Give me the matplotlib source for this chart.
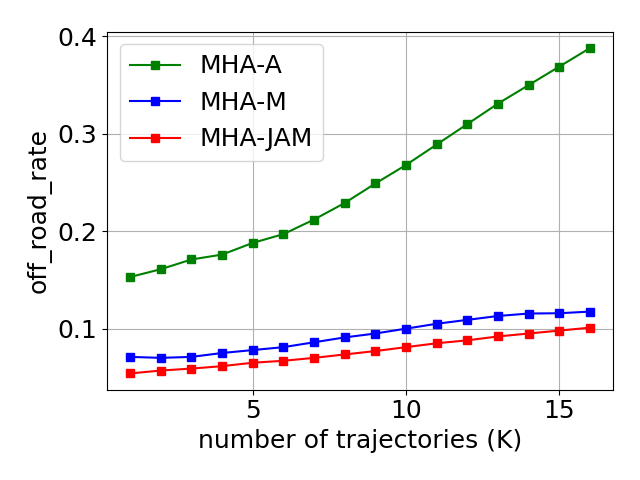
import numpy as np
import matplotlib
matplotlib.use('Agg')
import matplotlib.pyplot as plt

k = np.arange(1, 17)

mha_a = [0.153, 0.161, 0.171, 0.176, 0.188, 0.197, 0.212, 0.229,
         0.249, 0.268, 0.289, 0.310, 0.331, 0.350, 0.369, 0.388]
mha_m = [0.071, 0.070, 0.071, 0.075, 0.078, 0.081, 0.086, 0.091,
         0.095, 0.100, 0.105, 0.109, 0.113, 0.1155, 0.1158, 0.1175]
mha_jam = [0.054, 0.057, 0.059, 0.0615, 0.065, 0.067, 0.070, 0.0735,
           0.077, 0.081, 0.085, 0.088, 0.092, 0.095, 0.098, 0.101]

plt.rcParams['font.size'] = 18

fig, ax = plt.subplots(figsize=(6.4, 4.8), dpi=100)
ax.plot(k, mha_a, 's-', color='green', label='MHA-A')
ax.plot(k, mha_m, 's-', color='blue', label='MHA-M')
ax.plot(k, mha_jam, 's-', color='red', label='MHA-JAM')

ax.set_xlabel('number of trajectories (K)')
ax.set_ylabel('off_road_rate')
ax.grid(True)
ax.legend(loc='upper left')

plt.tight_layout()
plt.savefig('out.png')
